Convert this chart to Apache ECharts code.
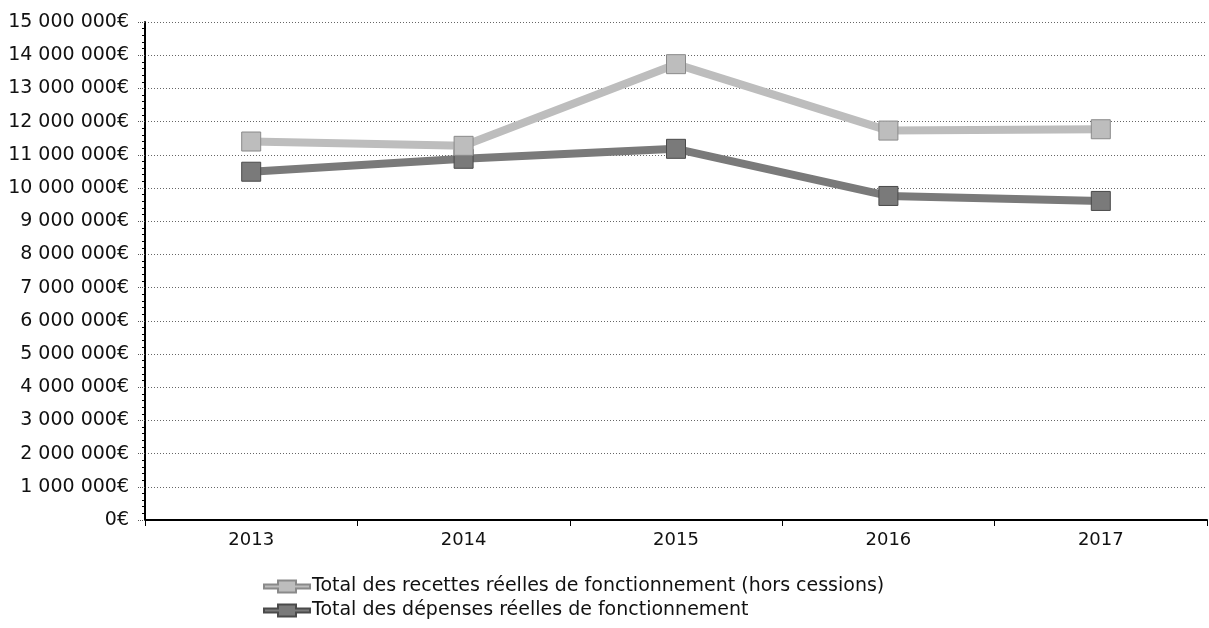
<!DOCTYPE html>
<html>
<head>
<meta charset="utf-8">
<script src="https://cdn.jsdelivr.net/npm/echarts@6/dist/echarts.min.js"></script>
<style>
  html, body { margin: 0; padding: 0; background: #ffffff; }
  #chart { width: 1209px; height: 628px; }
</style>
</head>
<body>
<div id="chart"></div>
<script>
// Years on the category axis
const years = ['2013', '2014', '2015', '2016', '2017'];

// Operating revenue (excluding asset sales), in euros
const recettes = [11400000, 11270000, 13730000, 11730000, 11770000];

// Operating expenditure, in euros
const depenses = [10490000, 10880000, 11180000, 9760000, 9610000];

const seriesNames = [
  'Total des recettes réelles de fonctionnement (hors cessions)',
  'Total des dépenses réelles de fonctionnement'
];

const FONT = 'DejaVu Sans';

function euro(v) {
  const s = String(Math.round(v)).replace(/\B(?=(\d{3})+(?!\d))/g, ' ');
  return s + '€';
}

const chart = echarts.init(document.getElementById('chart'), null, { renderer: 'canvas' });

chart.setOption({
  animation: false,
  backgroundColor: '#ffffff',
  grid: { left: 145, right: 2, top: 22, bottom: 108, containLabel: false },
  xAxis: {
    type: 'category',
    data: years,
    boundaryGap: true,
    axisLine: { show: true, lineStyle: { color: '#000000', width: 2 } },
    axisTick: { show: true, alignWithLabel: false, length: 6, lineStyle: { color: '#000000', width: 1 } },
    axisLabel: { color: '#111111', fontFamily: FONT, fontSize: 18, margin: 11 },
    splitLine: { show: false }
  },
  yAxis: {
    type: 'value',
    min: 0,
    max: 15000000,
    interval: 1000000,
    axisLine: { show: true, lineStyle: { color: '#000000', width: 2 } },
    axisTick: { show: true, length: 8, lineStyle: { color: '#555555', width: 1, type: 'dotted' } },
    minorTick: { show: true, splitNumber: 5, length: 3, lineStyle: { color: '#000000', width: 1 } },
    axisLabel: { color: '#111111', fontFamily: FONT, fontSize: 19, margin: 16, formatter: euro },
    splitLine: { show: true, lineStyle: { color: '#666666', width: 1, type: [1, 2] } }
  },
  legend: {
    orient: 'vertical',
    left: 258,
    top: 572,
    itemWidth: 46,
    itemHeight: 12,
    itemGap: 5,
    icon: 'path://M0,4 L14,4 L14,0 L32,0 L32,4 L46,4 L46,8 L32,8 L32,12 L14,12 L14,8 L0,8 Z',
    textStyle: { color: '#111111', fontFamily: FONT, fontSize: 19, padding: [0, 0, 0, -3] },
    data: seriesNames
  },
  series: [
    {
      name: seriesNames[0],
      type: 'line',
      data: recettes,
      symbol: 'rect',
      symbolSize: 19,
      showSymbol: true,
      z: 3,
      lineStyle: { color: '#bdbdbd', width: 8 },
      itemStyle: { color: '#bdbdbd', borderColor: '#8a8a8a', borderWidth: 1 }
    },
    {
      name: seriesNames[1],
      type: 'line',
      data: depenses,
      symbol: 'rect',
      symbolSize: 19,
      showSymbol: true,
      z: 2,
      lineStyle: { color: '#7a7a7a', width: 8 },
      itemStyle: { color: '#7a7a7a', borderColor: '#4a4a4a', borderWidth: 1 }
    }
  ]
});
</script>
</body>
</html>
